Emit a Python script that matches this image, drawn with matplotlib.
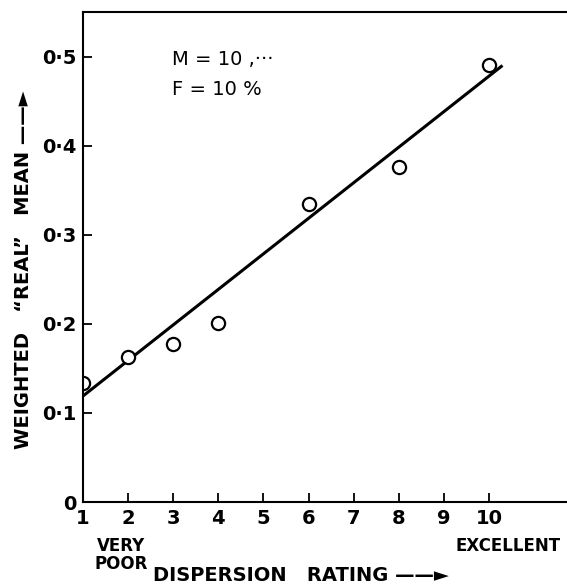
import matplotlib.pyplot as plt
import numpy as np

# dispersion rating vs weighted "real" mean
rating = np.array([1, 2, 3, 4, 6, 8, 10])
real_mean = np.array([0.134, 0.163, 0.177, 0.201, 0.334, 0.376, 0.491])

# straight line drawn through the points
fit_x = np.array([1.0, 10.3])
fit_y = np.array([0.119, 0.490])

x_ticks = [1, 2, 3, 4, 5, 6, 7, 8, 9, 10]
y_ticks = [0, 0.1, 0.2, 0.3, 0.4, 0.5]
y_labels = ['0', '0·1', '0·2', '0·3', '0·4', '0·5']

plt.rcParams['font.weight'] = 'bold'

fig = plt.figure(figsize=(5.67, 5.86), dpi=100)
ax = fig.add_axes([0.1464, 0.1433, 0.8536, 0.8362])

ax.plot(fit_x, fit_y, color='black', lw=2.2, solid_capstyle='butt')
ax.plot(rating, real_mean, 'o', ms=9.5, mfc='white', mec='black', mew=1.6)

ax.set_xlim(1, 11.73)
ax.set_ylim(0, 0.55)
ax.set_xticks(x_ticks)
ax.set_yticks(y_ticks)
ax.set_yticklabels(y_labels)
ax.tick_params(direction='in', length=6.5, width=1.3, labelsize=14, pad=5)
ax.spines['right'].set_visible(False)
for s in ['left', 'bottom', 'top']:
    ax.spines[s].set_linewidth(1.5)

ax.text(2.97, 0.497, 'M = 10 ,···', fontsize=14, fontweight='normal',
        va='center')
ax.text(2.97, 0.463, 'F = 10 %', fontsize=14, fontweight='normal',
        va='center')

ax.text(0.078, -0.072, 'VERY\nPOOR', fontsize=12,
        transform=ax.transAxes, ha='center', va='top', linespacing=1.0)
ax.text(0.77, -0.072, 'EXCELLENT', fontsize=12,
        transform=ax.transAxes, ha='left', va='top')

fig.text(0.53, 0.018, 'DISPERSION   RATING ——►', fontsize=14, ha='center',
         va='center')
fig.text(0.042, 0.54, 'WEIGHTED   “REAL”   MEAN ——►', fontsize=14,
         rotation=90, ha='center', va='center')

fig.savefig('out.png', dpi=100)
